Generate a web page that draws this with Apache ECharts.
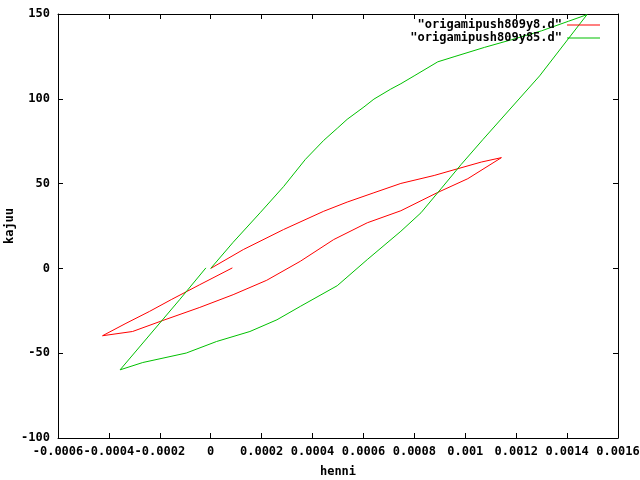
<!DOCTYPE html>
<html>
<head>
<meta charset="utf-8">
<script src="https://cdn.jsdelivr.net/npm/echarts@6/dist/echarts.min.js"></script>
<style>
html,body{margin:0;padding:0;background:#fff;}
#chart{width:640px;height:480px;}
</style>
</head>
<body>
<div id="chart"></div>
<script>
var seriesNames = ['"origamipush809y8.d"', '"origamipush809y85.d"'];

var redHenni = [0, 0.000128, 0.000286, 0.000444, 0.000536, 0.000641, 0.000747, 0.000878, 0.000971, 0.001063, 0.001142,
  0.00101, 0.000892, 0.000747, 0.000615, 0.000483, 0.000352, 0.00022, 0.000088, -0.000043, -0.000188, -0.000307, -0.000425,
  -0.000333, -0.000241, -0.000155, -0.000043, 0.000085];
var redKajuu = [0, 11.1, 22.9, 33.7, 39.1, 44.6, 50.1, 54.8, 58.8, 62.7, 65.3,
  52.9, 44.8, 34, 26.9, 17, 4.2, -7, -15.5, -23, -30.7, -37.2, -39.7,
  -32.4, -25.4, -18.4, -9.6, 0.3];

var greenHenni = [0, 0.000088, 0.000194, 0.000286, 0.000372, 0.000444, 0.000497, 0.000536, 0.000602, 0.000641, 0.000707,
  0.000747, 0.000799, 0.000892, 0.000956, 0.001075, 0.001181, 0.0013, 0.001405, 0.001478,
  0.001292, 0.00107, 0.000984, 0.000905, 0.000826, 0.000747, 0.000615, 0.000497, 0.000352, 0.00026, 0.000154, 0.000023,
  -0.000096, -0.000267, -0.000356, -0.000122, -0.000019];
var greenKajuu = [0, 15.4, 32.8, 48.2, 64.3, 75.5, 82.6, 87.9, 95.2, 99.8, 105.7,
  108.9, 113.5, 121.8, 124.8, 130.3, 134.8, 140.1, 145.7, 149.6,
  113.5, 76.1, 61.3, 47, 32.8, 21.9, 5.2, -10.2, -22.4, -30.3, -37.2, -43.1,
  -49.9, -55.5, -59.8, -18.4, 0.3];

var xMin = -0.0006, xMax = 0.0016, xStep = 0.0002;
var yMin = -100, yMax = 150, yStep = 50;

function zip(a, b) { return a.map(function (v, i) { return [v, b[i]]; }); }

var font = { fontFamily: 'DejaVu Sans Mono', fontWeight: 'bold', fontSize: 12, color: '#000' };
var lineAxis = { show: true, onZero: false, lineStyle: { color: '#000', width: 1 } };
var tickIn = { show: true, inside: true, length: 5, lineStyle: { color: '#000', width: 1 } };

var chart = echarts.init(document.getElementById('chart'), null, { renderer: 'canvas' });
chart.setOption({
  animation: false,
  backgroundColor: '#fff',
  grid: { left: 58, right: 22, top: 14, bottom: 42, containLabel: false, outerBoundsMode: 'none' },
  legend: {
    orient: 'vertical', right: 35, top: 14, align: 'right',
    itemWidth: 33, itemHeight: 1, itemGap: 1,
    icon: 'rect',
    textStyle: { fontFamily: 'DejaVu Sans Mono', fontWeight: 'bold', fontSize: 12, color: '#000', lineHeight: 12 },
    data: seriesNames
  },
  xAxis: [{
    type: 'value', min: xMin, max: xMax, interval: xStep, position: 'bottom',
    name: 'henni', nameLocation: 'middle', nameGap: 28, nameTextStyle: font, nameMoveOverlap: false,
    axisLine: lineAxis, axisTick: tickIn, splitLine: { show: false },
    axisLabel: Object.assign({ margin: 8, showMinLabel: true, showMaxLabel: true, hideOverlap: false,
      formatter: function (v) { return String(parseFloat(v.toFixed(6))); } }, font)
  }, {
    type: 'value', min: xMin, max: xMax, interval: xStep, position: 'top',
    axisLine: lineAxis, axisTick: tickIn, splitLine: { show: false }, axisLabel: { show: false }
  }],
  yAxis: [{
    type: 'value', min: yMin, max: yMax, interval: yStep, position: 'left',
    name: 'kajuu', nameLocation: 'middle', nameGap: 42, nameRotate: 90, nameTextStyle: font, nameMoveOverlap: false,
    axisLine: lineAxis, axisTick: tickIn, splitLine: { show: false },
    axisLabel: Object.assign({ margin: 8, showMinLabel: true, showMaxLabel: true }, font)
  }, {
    type: 'value', min: yMin, max: yMax, interval: yStep, position: 'right',
    axisLine: lineAxis, axisTick: tickIn, splitLine: { show: false }, axisLabel: { show: false }
  }],
  series: [{
    name: seriesNames[0], type: 'line', data: zip(redHenni, redKajuu),
    showSymbol: false, symbol: 'none', color: '#ff0000',
    lineStyle: { color: '#ff0000', width: 1 }, xAxisIndex: 0, yAxisIndex: 0
  }, {
    name: seriesNames[1], type: 'line', data: zip(greenHenni, greenKajuu),
    showSymbol: false, symbol: 'none', color: '#00c000',
    lineStyle: { color: '#00c000', width: 1 }, xAxisIndex: 0, yAxisIndex: 0
  }]
});
</script>
</body>
</html>
